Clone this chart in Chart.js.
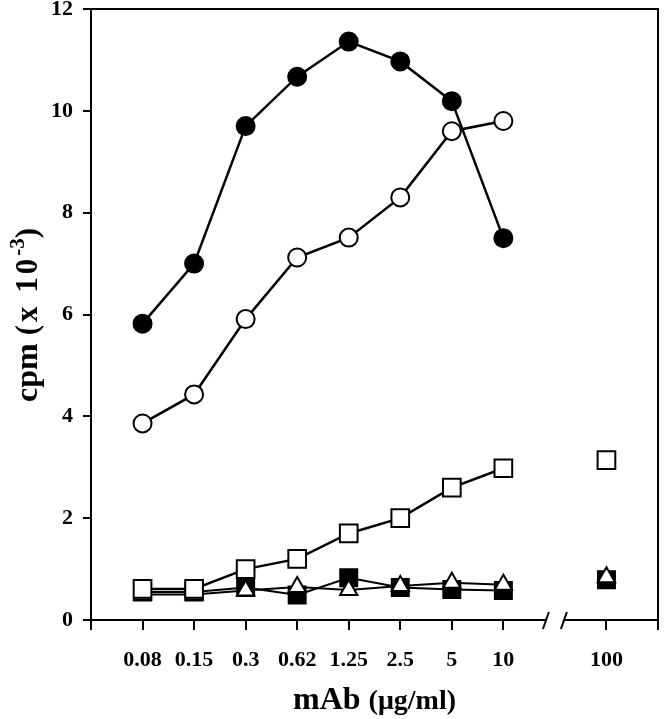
<!DOCTYPE html>
<html><head><meta charset="utf-8">
<script src="https://cdn.jsdelivr.net/npm/chart.js@4/dist/chart.umd.min.js"></script>
<style>html,body{margin:0;padding:0;background:#fff}</style>
</head><body>
<canvas id="c" width="664" height="719"></canvas>
<script>
const categories = ['0.08','0.15','0.3','0.62','1.25','2.5','5','10','100'];
const filledCircles = [5.82,7.0,9.7,10.67,11.36,10.97,10.19,7.5,null];
const openCircles = [3.86,4.43,5.91,7.12,7.51,8.3,9.6,9.8,null];
const openSquares = [0.61,0.61,1.0,1.2,1.7,2.0,2.6,2.98,3.14];
const filledSquares = [0.55,0.55,0.64,0.49,0.83,0.64,0.6,0.58,0.79];
const openTriangles = [0.5,0.5,0.58,0.65,0.59,0.67,0.73,0.69,0.84];
const yTicks = [0,2,4,6,8,10,12];

const BREAK_INDEX = 8; // the last category sits after an axis break
const xPos = i => (i < BREAK_INDEX ? i : i + 1);
function toPoints(vals){
  const pts = [];
  vals.forEach((v,i)=>{
    if (i === BREAK_INDEX) pts.push({x: BREAK_INDEX, y: null});
    if (v !== null) pts.push({x: xPos(i), y: v});
  });
  return pts;
}
const xTickVals = [-1].concat(categories.map((c,i)=>xPos(i))).concat([xPos(categories.length-1)+1]);
const xLabelAt = {};
categories.forEach((c,i)=>{ xLabelAt[xPos(i)] = c; });

const FONT = "'Liberation Serif','Times New Roman',serif";

function ds(vals, style, radius, fill, bw, lw){
  return {data: toPoints(vals), pointStyle: style, pointRadius: radius, pointHoverRadius: radius,
    pointBackgroundColor: fill, pointBorderColor: '#000', pointBorderWidth: bw,
    borderColor: '#000', borderWidth: lw, spanGaps: false, tension: 0, fill: false};
}

const decor = {
  id: 'decor',
  afterDraw(chart){
    const ctx = chart.ctx, a = chart.chartArea, xs = chart.scales.x;
    ctx.save();
    // frame top and right
    ctx.strokeStyle = '#000'; ctx.lineWidth = 2;
    ctx.beginPath();
    ctx.moveTo(a.left - 8, a.top); ctx.lineTo(a.right, a.top); ctx.lineTo(a.right, a.bottom);
    ctx.stroke();
    // axis break
    const bx = xs.getPixelForValue(BREAK_INDEX), by = a.bottom;
    ctx.fillStyle = '#fff';
    ctx.fillRect(bx - 8, by - 3, 16, 6);
    ctx.lineWidth = 2;
    [-9, 9].forEach(d=>{
      ctx.beginPath();
      ctx.moveTo(bx + d - 3, by + 9); ctx.lineTo(bx + d + 3, by - 8); ctx.stroke();
    });
    // x title
    ctx.fillStyle = '#000'; ctx.textBaseline = 'alphabetic';
    const f1 = "bold 32px " + FONT, f2 = "bold 28px " + FONT;
    ctx.font = f1; const w1 = ctx.measureText('mAb ').width;
    ctx.font = f2; const w2 = ctx.measureText('(\u03bcg/ml)').width;
    let x0 = (a.left + a.right)/2 - (w1 + w2)/2;
    ctx.font = f1; ctx.textAlign = 'left'; ctx.fillText('mAb ', x0, 709);
    ctx.font = f2; ctx.fillText('(\u03bcg/ml)', x0 + w1, 709);
    // y title
    ctx.translate(37, 315);
    ctx.rotate(-Math.PI/2);
    const parts = [['cpm ', "bold 32px " + FONT, 0, '0px'], ['(x 10', "bold 31px " + FONT, 0, '3px'], ['-3', "bold 21px " + FONT, -13, '0px'], [')', "bold 31px " + FONT, 0, '0px']];
    let tot = 0; parts.forEach(p=>{ ctx.font = p[1]; ctx.letterSpacing = p[3]; p.push(ctx.measureText(p[0]).width); tot += p[4]; });
    let cx = -tot/2;
    parts.forEach(p=>{ ctx.font = p[1]; ctx.letterSpacing = p[3]; ctx.fillText(p[0], cx, p[2]); cx += p[4]; });
    ctx.restore();
  }
};

new Chart(document.getElementById('c'), {
  type: 'line',
  data: { datasets: [
    ds(openSquares, 'rect', 12.5, '#fff', 2, 2.5),
    ds(openTriangles, 'triangle', 10, '#fff', 2, 2),
    ds(filledSquares, 'rect', 12, '#000', 2, 2),
    ds(openCircles, 'circle', 9, '#fff', 2, 2.5),
    ds(filledCircles, 'circle', 9, '#000', 2, 2.5)
  ]},
  options: {
    responsive: false, animation: false, devicePixelRatio: 1,
    layout: { autoPadding: false, padding: { top: 9, right: 6, left: 0, bottom: 0 } },
    plugins: { legend: { display: false }, tooltip: { enabled: false } },
    scales: {
      x: {
        type: 'linear', min: -1, max: xPos(categories.length-1) + 1,
        afterBuildTicks: s => { s.ticks = xTickVals.map(v=>({value: v})); },
        afterFit: s => { s.height = 99; s.paddingLeft = 0; s.paddingRight = 0; },
        ticks: { autoSkip: false, maxRotation: 0, padding: 17, color: '#000',
          font: { family: FONT, size: 22, weight: 'bold' },
          callback: v => (xLabelAt[v] !== undefined ? xLabelAt[v] : '') },
        grid: { drawOnChartArea: false, drawTicks: true, tickLength: 10, color: '#000', lineWidth: 2 },
        border: { display: true, color: '#000', width: 2 }
      },
      y: {
        min: yTicks[0], max: yTicks[yTicks.length-1],
        afterBuildTicks: s => { s.ticks = yTicks.map(v=>({value: v})); },
        afterFit: s => { s.width = 91; s.paddingTop = 0; s.paddingBottom = 0; },
        ticks: { padding: 10, color: '#000', font: { family: FONT, size: 22, weight: 'bold' } },
        grid: { drawOnChartArea: false, drawTicks: true, tickLength: 8, color: '#000', lineWidth: 2 },
        border: { display: true, color: '#000', width: 2 }
      }
    }
  },
  plugins: [decor]
});
</script>
</body></html>
